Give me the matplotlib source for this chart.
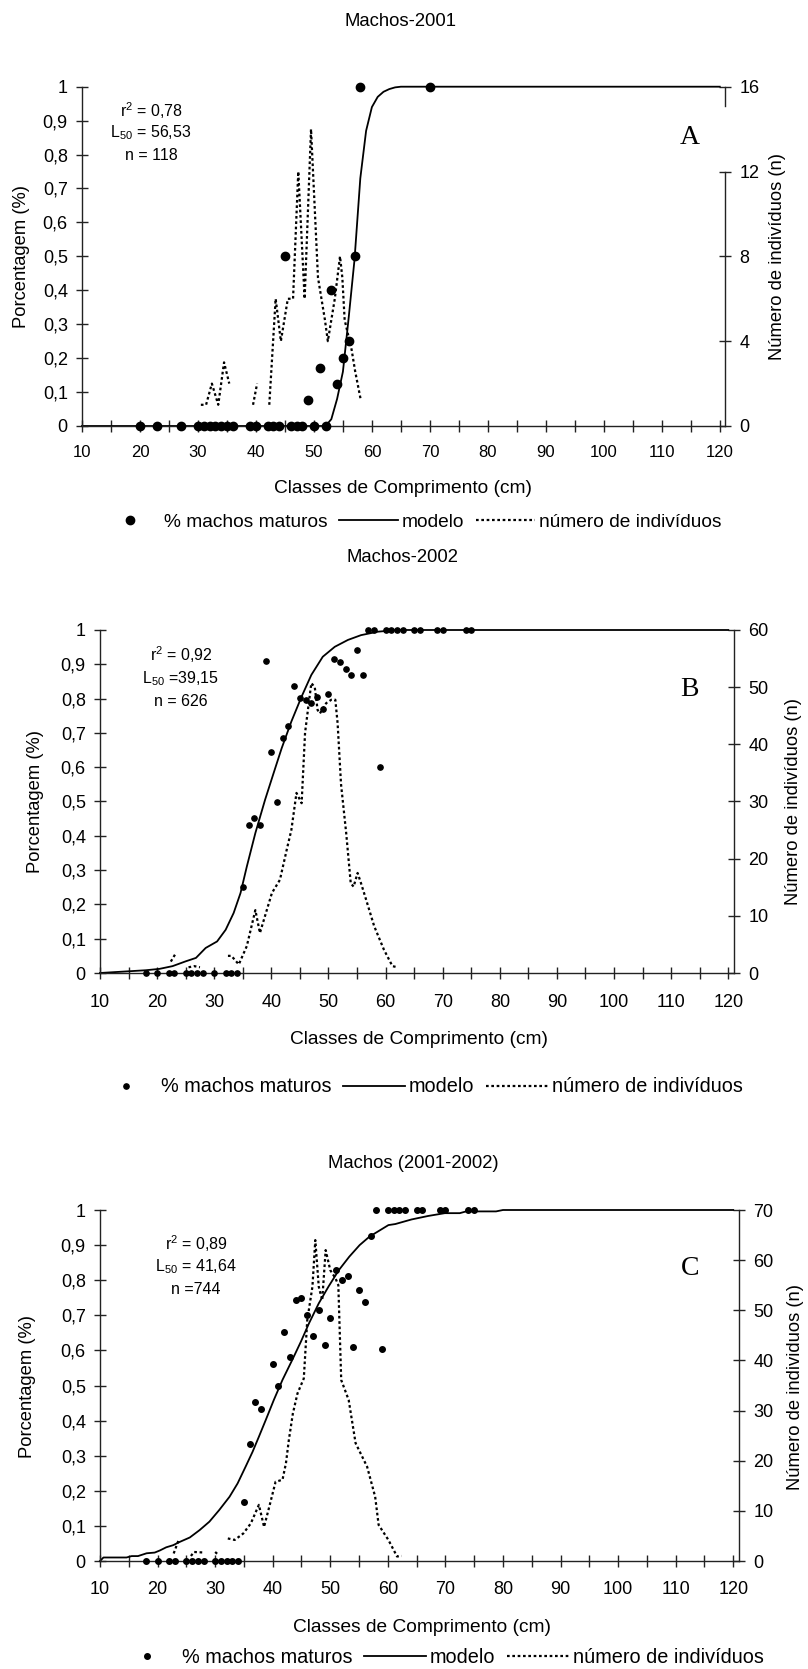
import numpy as np
import matplotlib
matplotlib.use('Agg')
import matplotlib.pyplot as plt
from matplotlib.lines import Line2D
from matplotlib.ticker import FuncFormatter

plt.rcParams['font.family'] = ['Liberation Sans', 'DejaVu Sans']
plt.rcParams['mathtext.fontset'] = 'custom'
plt.rcParams['mathtext.rm'] = 'Liberation Sans'
plt.rcParams['mathtext.it'] = 'Liberation Sans:italic'
plt.rcParams['mathtext.bf'] = 'Liberation Sans:bold'

nan = np.nan

# ---------------- Panel A : Machos-2001 ----------------
lenA = [20, 23, 27, 30, 31, 32, 33, 34, 35, 36, 39, 40, 42, 43, 44, 45, 46, 47, 48,
        49, 50, 51, 52, 53, 54, 55, 56, 57, 58, 70]
pctA = [0, 0, 0, 0, 0, 0, 0, 0, 0, 0, 0, 0, 0, 0, 0, 0.5, 0, 0, 0,
        0.077, 0, 0.17, 0, 0.4, 0.125, 0.2, 0.25, 0.5, 1, 1]
modA_x = [10, 52, 53, 54, 55, 56, 57, 58, 59, 60, 61, 62, 63, 64, 65, 120]
modA_y = [0, 0, 0.02, 0.08, 0.16, 0.32, 0.49, 0.73, 0.87, 0.94, 0.97, 0.985, 0.993, 0.998, 1.0, 1.0]
cntA_x = [30.5, 31.4, 32.4, 33.5, 34.5, 35.4, nan, 39.5, 40.2, nan, 42.3, 43.4, 44.3, 45.5,
          46.4, 47.3, 48.4, 49.5, 50.7, 51.3, 51.9, 52.4, 53.6, 54.5, 54.9, 55.3, 56.5, 57.1, 58.1]
cntA_n = [1, 1, 2, 1, 3, 2, nan, 1, 2, nan, 1, 6, 4, 6,
          6, 12, 6, 14, 7, 6, 5, 4, 6, 8, 7, 5, 3.6, 2.6, 1.2]

# ---------------- Panel B : Machos-2002 ----------------
lenB = [18, 20, 22, 23, 25, 26, 27, 28, 30, 32, 33, 34, 35, 36, 37, 38, 39, 40, 41, 42,
        43, 44, 45, 46, 47, 48, 49, 50, 51, 52, 53, 54, 55, 56, 57, 58, 59, 60, 61, 62,
        63, 65, 66, 69, 70, 74, 75]
pctB = [0, 0, 0, 0, 0, 0, 0, 0, 0, 0, 0, 0, 0.25, 0.431, 0.453, 0.431, 0.91, 0.644, 0.498, 0.684,
        0.72, 0.838, 0.803, 0.796, 0.788, 0.806, 0.77, 0.814, 0.915, 0.907, 0.887, 0.869, 0.942, 0.869, 1, 1, 0.602, 1, 1, 1,
        1, 1, 1, 1, 1, 1, 1]
modB_x = [10, 15, 18, 20.4, 22.7, 25, 26.8, 28.5, 30.5, 32, 33.4, 34.6, 35.7, 37.2, 38.9,
          40.4, 41.8, 43.5, 45.3, 47, 49, 51.1, 53.4, 55.7, 58.6, 62, 120]
modB_y = [0, 0.005, 0.008, 0.012, 0.02, 0.034, 0.044, 0.073, 0.092, 0.126, 0.175, 0.233, 0.31, 0.408, 0.505,
          0.583, 0.655, 0.733, 0.806, 0.869, 0.922, 0.951, 0.971, 0.985, 0.995, 1.0, 1.0]
cntB_x = [22.4, 23.3, nan, 25.5, 26.5, 27.5, nan, 32.4, 33.0, 34.3, 35.7, 37.2, 38.0, 38.9, 40.1,
          41.5, 42.7, 43.5, 44.4, 45.3, 45.9, 46.4, 47.0, 47.6, 48.1, 48.5, 49.6, 50.5, 51.2,
          51.6, 52.2, 53.1, 53.9, 54.4, 55.1, 55.7, 56.6, 58.0, 59.7, 61.2, 62.1]
cntB_n = [2, 3.5, nan, 1, 1.2, 1, nan, 3, 3, 1.5, 4.7, 11, 7, 10, 14,
          16.3, 21.6, 25, 31.5, 29.7, 42, 46, 50.7, 50, 46, 45.4, 47.2, 47.8, 47.8,
          43.7, 33, 24.5, 15.7, 15.1, 17.5, 15.7, 12.8, 8.2, 4.1, 1.2, 1]

# ---------------- Panel C : Machos (2001-2002) ----------------
lenC = [18, 20, 22, 23, 25, 26, 27, 28, 30, 31, 32, 33, 34, 35, 36, 37, 38, 40, 41, 42,
        43, 44, 45, 46, 47, 48, 49, 50, 51, 52, 53, 54, 55, 56, 57, 58, 59, 60, 61, 62,
        63, 65, 66, 69, 70, 74, 75]
pctC = [0, 0, 0, 0, 0, 0, 0, 0, 0, 0, 0, 0, 0, 0.169, 0.333, 0.454, 0.432, 0.561, 0.5, 0.651,
        0.58, 0.745, 0.75, 0.701, 0.642, 0.714, 0.615, 0.691, 0.83, 0.8, 0.813, 0.611, 0.772, 0.737, 0.926, 1, 0.603, 1, 1, 1,
        1, 1, 1, 1, 1, 1, 1]
modC_x = [10, 10.6, 14.6, 15.5, 16.6, 18.1, 19.5, 20.4, 21.5, 22.7, 23.8, 25.6, 27.3, 29.0, 30.7,
          32.5, 33.9, 35.3, 36.5, 37.6, 38.8, 40.2, 41.7, 43.4, 44.9, 46.3, 48.0, 49.7, 51.5,
          53.3, 55.1, 56.8, 58.4, 60.1, 61.3, 64.1, 67.0, 69.9, 72.5, 73.6, 78.8, 80.0, 120]
modC_y = [0, 0.01, 0.01, 0.014, 0.014, 0.022, 0.024, 0.03, 0.039, 0.045, 0.054, 0.067, 0.088, 0.112, 0.145,
          0.183, 0.221, 0.269, 0.311, 0.354, 0.402, 0.459, 0.516, 0.573, 0.625, 0.677, 0.734, 0.782, 0.829,
          0.867, 0.9, 0.924, 0.94, 0.957, 0.96, 0.973, 0.983, 0.991, 0.991, 0.996, 0.996, 1.0, 1.0]
cntC_x = [22.8, 23.6, nan, 25.8, 26.3, 27.9, nan, 30.0, 30.6, nan, 32.2, 33.4, 34.9, 36.2, 37.6,
          38.5, 39.4, 40.5, 41.7, 42.3, 42.8, 43.5, 44.3, 45.4, 46.0, 46.9, 47.4, 48.0, 48.6,
          49.2, 50.0, 50.9, 51.4, 51.9, 53.2, 54.4, 56.4, 57.8, 58.4, 60.1, 61.6, 62.4]
cntC_n = [1.5, 4, nan, 1, 1.8, 1.7, nan, 1.8, 1.2, nan, 4.5, 4.2, 5.5, 7.5, 11.2,
          6.8, 10.8, 15.8, 16.2, 19.5, 24.1, 29.4, 33.4, 36.4, 48, 54.7, 64, 54.7, 52,
          62, 58, 56.4, 55, 36.1, 32.1, 23.5, 18.8, 12.8, 7.2, 4.2, 0.9, 1]

xticks = list(range(10, 121, 5))
xticklabels = [str(v) if v % 10 == 0 else '' for v in xticks]
yticks = [i / 10 for i in range(11)]

W, H = 808, 1669
fig = plt.figure(figsize=(W / 100, H / 100), dpi=100)
AX_COLOR = '#222222'


def fx(x):
    return x / W


def fy(y):
    return 1 - y / H


def comma(v, pos=None):
    s = f'{v:.1f}'.rstrip('0').rstrip('.')
    return s.replace('.', ',')


def panel(box, xmax, lens, pct, mx, my, cx, cn, nmax, nstep, ms, xfs, xpad):
    l, r, t, b = box
    ax = fig.add_axes([l / W, 1 - b / H, (r - l) / W, (b - t) / H])
    ax2 = ax.twinx()
    ax.set_zorder(ax2.get_zorder() + 1)
    ax.patch.set_visible(False)
    ax.set_xlim(10, xmax)
    ax.set_ylim(0, 1)
    ax2.set_ylim(0, nmax)
    ax2.plot(cx, cn, color='black', lw=1.6, ls=(0, (1.2, 1.2)), clip_on=False)
    ax.plot(mx, my, color='black', lw=1.3, clip_on=False)
    ax.plot(lens, pct, 'o', color='black', ms=ms, clip_on=False, zorder=5)
    for a in (ax, ax2):
        a.spines['top'].set_visible(False)
        for s in a.spines.values():
            s.set_color(AX_COLOR)
            s.set_linewidth(1.0)
    ax.spines['right'].set_visible(False)
    ax2.spines['left'].set_visible(False)
    ax2.spines['bottom'].set_visible(False)
    ax.set_xticks(xticks)
    ax.set_xticklabels(xticklabels)
    ax.set_yticks(yticks)
    ax.yaxis.set_major_formatter(FuncFormatter(comma))
    ax2.set_yticks(list(range(0, nmax + 1, nstep)))
    ax.tick_params(axis='x', direction='inout', length=9, width=1.0, color=AX_COLOR,
                   labelsize=xfs, pad=xpad)
    ax.tick_params(axis='y', direction='inout', length=8.5, width=1.0, color=AX_COLOR,
                   labelsize=13, pad=6)
    ax2.tick_params(axis='y', direction='inout', length=8.5, width=1.0, color=AX_COLOR,
                    labelsize=13, pad=6)
    return ax, ax2


def legend(cx, cy, ms, fs):
    h = [Line2D([], [], marker='o', ls='none', color='black', ms=ms),
         Line2D([], [], color='black', lw=1.3),
         Line2D([], [], color='black', lw=1.6, ls=(0, (1.2, 1.2)))]
    labels = ['% machos maturos', 'modelo', 'número de indivíduos']
    fig.legend(h, labels, loc='center', bbox_to_anchor=(fx(cx), fy(cy)), ncol=3,
               frameon=False, fontsize=fs, handlelength=3.1, handletextpad=0.2,
               columnspacing=0.6, borderaxespad=0, borderpad=0)


def texts(title, tpos, ann, apos, letter, lpos, ylab_pos, y2lab, y2pos, xlab_pos):
    fig.text(fx(tpos[0]), fy(tpos[1]), title, ha='center', va='center', fontsize=13.3)
    for s, (x, y) in zip(ann, apos):
        fig.text(fx(x), fy(y), s, ha='center', va='center', fontsize=11.5)
    fig.text(fx(lpos[0]), fy(lpos[1]), letter, ha='center', va='center', fontsize=20,
             family='Liberation Serif')
    fig.text(fx(ylab_pos[0]), fy(ylab_pos[1]), 'Porcentagem (%)', rotation=90,
             ha='center', va='center', fontsize=13.2)
    fig.text(fx(y2pos[0]), fy(y2pos[1]), y2lab, rotation=90,
             ha='center', va='center', fontsize=13.2)
    fig.text(fx(xlab_pos[0]), fy(xlab_pos[1]), 'Classes de Comprimento (cm)',
             ha='center', va='center', fontsize=13.8)


# Panel A
axA, axA2 = panel((82, 725, 86.7, 426), 120.9, lenA, pctA, modA_x, modA_y, cntA_x, cntA_n,
                  16, 4, 6.0, 12, 9)
axA2.spines['right'].set_bounds(0, 12)
axA2.plot([1, 1], [15.1 / 16, 1], transform=axA2.transAxes, color=AX_COLOR, lw=1.0,
          clip_on=False)
texts('Machos-2001', (401, 21),
      [r'r$^2$ = 0,78', r'L$_{50}$ = 56,53', 'n = 118'], [(151, 111), (151, 133), (151, 155)],
      'A', (690, 137), (22, 256), 'Número de indivíduos (n)', (778, 256), (403, 488))
legend(411, 522, 6.0, 13.8)

# Panel B
axB, axB2 = panel((100, 734, 630, 973), 121, lenB, pctB, modB_x, modB_y, cntB_x, cntB_n,
                  60, 10, 3.8, 13, 10.5)
texts('Machos-2002', (402, 557),
      [r'r$^2$ = 0,92', r'L$_{50}$ =39,15', 'n = 626'], [(181, 655), (181, 679), (181, 701)],
      'B', (689, 689), (35, 801), 'Número de indivíduos (n)', (793, 801), (419, 1040))
legend(419, 1087, 3.8, 14.3)

# Panel C
axC, axC2 = panel((100, 739, 1210, 1561), 121, lenC, pctC, modC_x, modC_y, cntC_x, cntC_n,
                  70, 10, 4.0, 13, 10)
texts('Machos (2001-2002)', (413, 1163),
      [r'r$^2$ = 0,89', r'L$_{50}$ = 41,64', 'n =744'], [(196, 1244), (196, 1267), (196, 1290)],
      'C', (690, 1268), (28, 1386), 'Número de individuos (n)', (796, 1387), (422, 1627))
legend(440, 1657, 4.0, 14.3)

fig.savefig('out.png', dpi=100)
